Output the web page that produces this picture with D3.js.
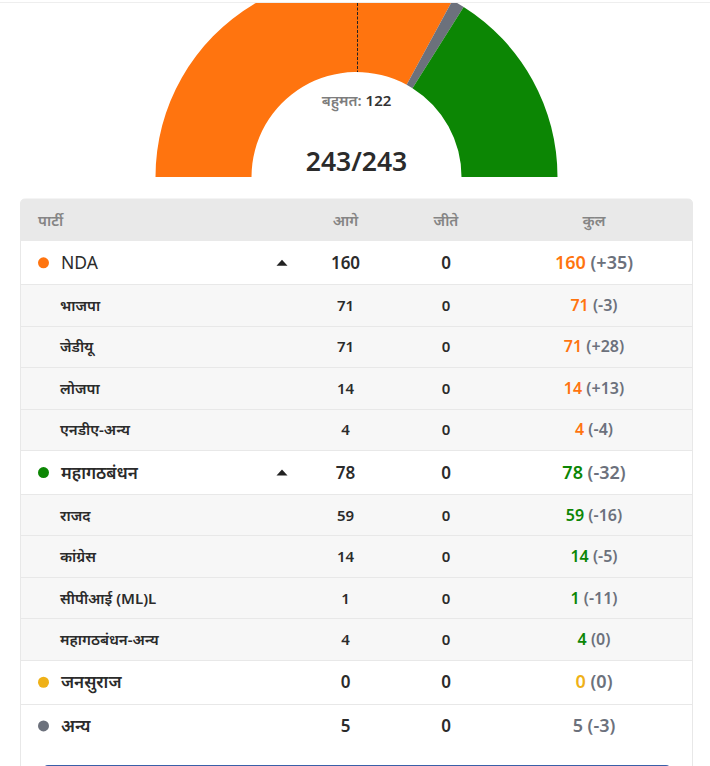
<!DOCTYPE html>
<html>
<head>
<meta charset="utf-8">
<script src="https://cdn.jsdelivr.net/npm/d3@7"></script>
<style>
html, body { margin: 0; padding: 0; background: #fff; overflow: hidden; }
svg { display: block; }
text { font-family: "Noto Sans", "Noto Sans Devanagari", sans-serif; }
</style>
</head>
<body>
<div id="chart"></div>
<script>
// gauge seats, in the order they go round the arc
var seatParties = ["NDA", "अन्य", "महागठबंधन", "जनसुराज"];
var seatValues = [160, 5, 78, 0];
var seatColors = ["#ff740f", "#6c717c", "#0c8604", "#efb118"];

var majority = 122;
var totalLabel = "243/243";

var headers = ["पार्टी", "आगे", "जीते", "कुल"];

var rowNames = ["NDA", "भाजपा", "जेडीयू", "लोजपा", "एनडीए-अन्य", "महागठबंधन", "राजद", "कांग्रेस", "सीपीआई (ML)L", "महागठबंधन-अन्य", "जनसुराज", "अन्य"];
var rowLeading = [160, 71, 71, 14, 4, 78, 59, 14, 1, 4, 0, 5];
var rowWon = [0, 0, 0, 0, 0, 0, 0, 0, 0, 0, 0, 0];
var rowChange = ["+35", "-3", "+28", "+13", "-4", "-32", "-16", "-5", "-11", "0", "0", "-3"];
var rowParent = [0, 0, 0, 0, 0, 2, 2, 2, 2, 2, 3, 1]; // index into seatColors
var rowIsMain = [true, false, false, false, false, true, false, false, false, false, true, true];
var rowHasCaret = [true, false, false, false, false, true, false, false, false, false, false, false];

var width = 710, height = 766;
var svg = d3.select("#chart").append("svg").attr("width", width).attr("height", height);

// ---- gauge ----
var cx = 356.5, cy = 177;
var pie = d3.pie().sort(null).startAngle(-Math.PI / 2).endAngle(Math.PI / 2);
var arc = d3.arc().innerRadius(105).outerRadius(201);

var defs = svg.append("defs");
defs.append("clipPath").attr("id", "gaugeclip").append("rect")
	.attr("x", 0).attr("y", 3).attr("width", width).attr("height", 174);

var gauge = svg.append("g").attr("clip-path", "url(#gaugeclip)");
gauge.append("g").attr("transform", "translate(" + cx + "," + cy + ")")
	.selectAll("path").data(pie(seatValues)).enter().append("path")
	.attr("d", arc)
	.attr("fill", function(d, i) { return seatColors[i]; });

svg.append("line").attr("x1", 0).attr("x2", width).attr("y1", 2.5).attr("y2", 2.5)
	.attr("stroke", "#eeeeee").attr("stroke-width", 1);

// majority marker
svg.append("line").attr("x1", cx + 1).attr("x2", cx + 1).attr("y1", 3).attr("y2", 72)
	.attr("stroke", "#222").attr("stroke-width", 1).attr("stroke-dasharray", "3,1.5");

var maj = svg.append("text").attr("x", cx).attr("y", 106).attr("text-anchor", "middle")
	.attr("font-size", 15).attr("font-weight", 600);
maj.append("tspan").attr("fill", "#7d7d7d").text("बहुमत: ");
maj.append("tspan").attr("fill", "#333").text(majority);

svg.append("text").attr("x", cx).attr("y", 171).attr("text-anchor", "middle")
	.attr("font-size", 26.5).attr("font-weight", 600).attr("fill", "#2b2b2b").text(totalLabel);

// ---- table ----
var left = 20.5, right = 692.5;
var headTop = 199, headBottom = 241;
var mainH = 43.7, subH = 41.5;
var colX = [38, 345.5, 446, 594];

// card outline, runs off the bottom of the page
svg.append("path")
	.attr("d", "M" + left + "," + height + "V" + (headTop + 5) + "q0,-5 5,-5H" + (right - 5) + "q5,0 5,5V" + height)
	.attr("fill", "#fff").attr("stroke", "#e8e8e8");

svg.append("path")
	.attr("d", "M" + left + "," + headBottom + "V" + (headTop + 5) + "q0,-5 5,-5H" + (right - 5) + "q5,0 5,5V" + headBottom + "Z")
	.attr("fill", "#e9e9e9");

svg.selectAll("text.head").data(headers).enter().append("text")
	.attr("class", "head")
	.attr("x", function(d, i) { return colX[i]; })
	.attr("y", 226)
	.attr("text-anchor", function(d, i) { return i ? "middle" : "start"; })
	.attr("font-size", 15).attr("font-weight", 600).attr("fill", "#858585")
	.text(function(d) { return d; });

// rows have two heights, so stack them up
var tops = [];
rowNames.reduce(function(y, d, i) {
	tops.push(y);
	return y + (rowIsMain[i] ? mainH : subH);
}, headBottom);

function rowH(i) { return rowIsMain[i] ? mainH : subH; }
function midY(i) { return rowH(i) / 2; }
function baseY(i) { return midY(i) + (rowIsMain[i] ? 6 : 5.5); }

var rows = svg.selectAll("g.row").data(rowNames).enter().append("g")
	.attr("class", "row")
	.attr("transform", function(d, i) { return "translate(0," + tops[i] + ")"; });

rows.append("rect")
	.attr("x", left + 0.5).attr("width", right - left - 1)
	.attr("height", function(d, i) { return rowH(i); })
	.attr("fill", function(d, i) { return rowIsMain[i] ? "#fff" : "#f7f7f7"; });

// separators drawn after all the fills, snapped to whole pixels
rowNames.slice(0, -1).forEach(function(d, i) {
	var y = Math.floor(tops[i] + rowH(i)) + 0.5;
	svg.append("line").attr("x1", left).attr("x2", right).attr("y1", y).attr("y2", y)
		.attr("stroke", "#e8e8e8");
});

rows.each(function(d, i) {
	var row = d3.select(this);
	var size = rowIsMain[i] ? 17 : 15;

	if (rowIsMain[i]) {
		row.append("circle").attr("cx", 43.5).attr("cy", midY(i)).attr("r", 5.5)
			.attr("fill", seatColors[rowParent[i]]);
	}
	if (rowHasCaret[i]) {
		row.append("path")
			.attr("d", "M276.5," + (midY(i) + 3) + "L282," + (midY(i) - 3) + "L287.5," + (midY(i) + 3) + "Z")
			.attr("fill", "#222");
	}

	row.append("text")
		.attr("x", rowIsMain[i] ? 61 : 60).attr("y", baseY(i))
		.attr("font-size", d === "NDA" ? 17.5 : size)
		.attr("font-weight", d === "NDA" ? 400 : 600)
		.attr("fill", "#2b2b2b").text(d);

	[rowLeading[i], rowWon[i]].forEach(function(v, k) {
		row.append("text")
			.attr("x", colX[k + 1]).attr("y", baseY(i))
			.attr("text-anchor", "middle")
			.attr("font-size", size).attr("font-weight", 600)
			.attr("fill", "#2b2b2b").text(v);
	});

	var total = row.append("text")
		.attr("x", colX[3]).attr("y", baseY(i))
		.attr("text-anchor", "middle")
		.attr("font-size", rowIsMain[i] ? 18 : 16).attr("font-weight", 600);
	total.append("tspan").attr("fill", seatColors[rowParent[i]]).text(rowLeading[i] + rowWon[i]);
	total.append("tspan").attr("fill", "#6c717c").text(" (" + rowChange[i] + ")");
});

// button starts right at the bottom edge
svg.append("rect").attr("x", 44).attr("y", 765).attr("width", 626).attr("height", 20).attr("rx", 4)
	.attr("fill", "#3a5fa8");
</script>
</body>
</html>
